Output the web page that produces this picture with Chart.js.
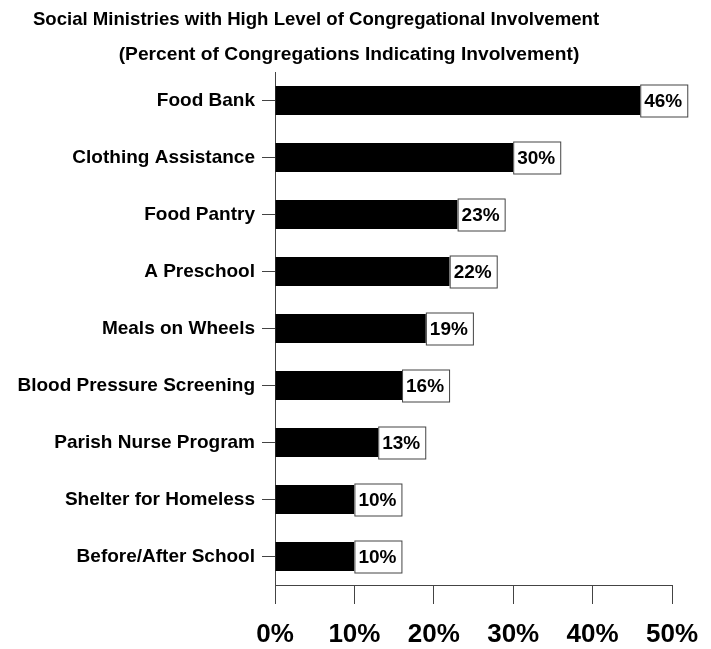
<!DOCTYPE html>
<html>
<head>
<meta charset="utf-8">
<script src="https://cdn.jsdelivr.net/npm/chart.js@4.4.0/dist/chart.umd.min.js"></script>
<style>
  html, body { margin: 0; padding: 0; background: #fff; }
  #wrap { width: 711px; height: 649px; }
</style>
</head>
<body>
<div id="wrap"><canvas id="ministryChart" width="711" height="649"></canvas></div>
<script>
// Chart data
const ministries = ['Food Bank', 'Clothing Assistance', 'Food Pantry', 'A Preschool', 'Meals on Wheels',
    'Blood Pressure Screening', 'Parish Nurse Program', 'Shelter for Homeless', 'Before/After School'];
const involvement = [46, 30, 23, 22, 19, 16, 13, 10, 10];
const xTicks = [0, 10, 20, 30, 40, 50];

const titleLine = 'Social Ministries with High Level of Congregational Involvement';
const subtitleLine = '(Percent of Congregations Indicating Involvement)';
const FONT = '"Liberation Sans", Arial, sans-serif';

// Draws the two title lines at fixed spots
const titlePlugin = {
    id: 'titleLines',
    afterDraw(chart) {
        const ctx = chart.ctx;
        ctx.save();
        ctx.fillStyle = '#000';
        ctx.textAlign = 'center';
        ctx.textBaseline = 'middle';
        ctx.font = 'bold 18.6px ' + FONT;
        ctx.fillText(titleLine, 316, 20);
        ctx.font = 'bold 19.2px ' + FONT;
        ctx.fillText(subtitleLine, 349, 55);
        ctx.restore();
    }
};

// Boxed value label at the end of each bar
const valueBoxPlugin = {
    id: 'valueBoxes',
    afterDatasetsDraw(chart) {
        const ctx = chart.ctx;
        const meta = chart.getDatasetMeta(0);
        ctx.save();
        ctx.font = 'bold 19px ' + FONT;
        ctx.textBaseline = 'middle';
        meta.data.forEach((bar, i) => {
            const text = involvement[i] + '%';
            const w = ctx.measureText(text).width + 9;
            const h = 32;
            const x = bar.x;
            const y = bar.y - h / 2;
            ctx.fillStyle = '#fff';
            ctx.fillRect(x, y, w, h);
            ctx.strokeStyle = '#444';
            ctx.lineWidth = 1;
            ctx.strokeRect(x + 0.5, y + 0.5, w, h);
            ctx.fillStyle = '#000';
            ctx.fillText(text, x + 4, bar.y + 1);
        });
        ctx.restore();
    }
};

const ctx = document.getElementById('ministryChart').getContext('2d');
const ministryChart = new Chart(ctx, {
    type: 'bar',
    data: {
        labels: ministries,
        datasets: [{
            data: involvement,
            backgroundColor: '#000',
            borderWidth: 0,
            barPercentage: 0.51,
            categoryPercentage: 1.0,
        }]
    },
    options: {
        indexAxis: 'y',
        responsive: false,
        animation: false,
        layout: { padding: { top: 72, right: 39, bottom: 0, left: 0 } },
        plugins: {
            legend: { display: false },
            tooltip: { enabled: false },
        },
        scales: {
            x: {
                min: 0,
                max: 50,
                afterBuildTicks: scale => { scale.ticks = xTicks.map(v => ({ value: v })); },
                afterFit: scale => {
                    scale.height = 64;
                    scale.paddingLeft = 0;
                    scale.paddingRight = 0;
                },
                grid: { drawOnChartArea: false, tickLength: 19, color: '#444' },
                border: { color: '#444' },
                ticks: {
                    color: '#000',
                    padding: 15,
                    maxRotation: 0,
                    font: { family: FONT, size: 26, weight: 'bold' },
                    callback: v => v + '%',
                },
            },
            y: {
                afterFit: scale => { scale.width = 275; },
                grid: { drawOnChartArea: false, offset: false, tickLength: 13, color: '#444' },
                border: { color: '#444' },
                ticks: {
                    color: '#000',
                    padding: 7,
                    font: { family: FONT, size: 19, weight: 'bold' },
                },
            },
        },
    },
    plugins: [titlePlugin, valueBoxPlugin],
});
</script>
</body>
</html>
